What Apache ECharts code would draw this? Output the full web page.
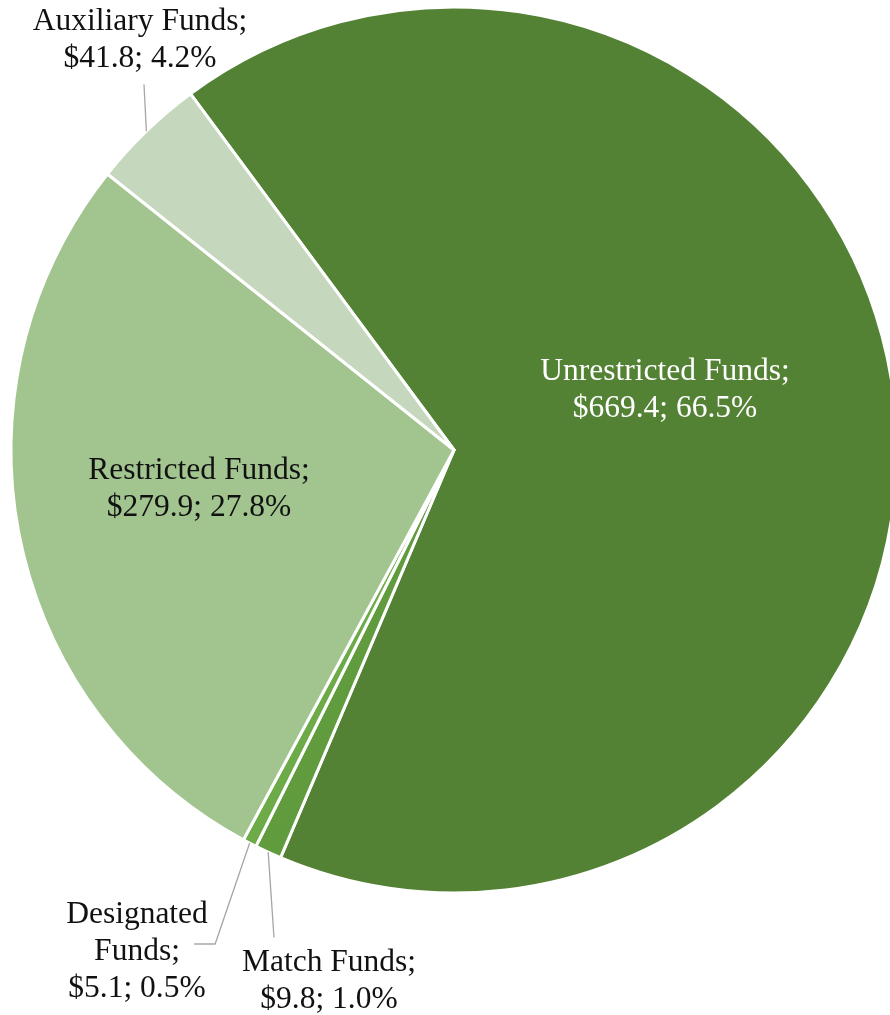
<!DOCTYPE html>
<html>
<head>
<meta charset="utf-8">
<script src="https://cdn.jsdelivr.net/npm/echarts@6/dist/echarts.min.js"></script>
<style>html,body{margin:0;padding:0;background:#fff}#c{width:890px;height:1015px}</style>
</head>
<body>
<div id="c"></div>
<script>
const categories = ['Unrestricted Funds', 'Match Funds', 'Designated Funds', 'Restricted Funds', 'Auxiliary Funds'];
const values = [669.4, 9.8, 5.1, 279.9, 41.8];
const colors = ['#548235', '#609b3e', '#6cab47', '#a2c48f', '#c5d8bd'];
const labelNames = ['Unrestricted Funds;', 'Match Funds;', 'Designated\nFunds;', 'Restricted Funds;', 'Auxiliary Funds;'];
const labelColors = ['#ffffff', '#111111', '#111111', '#111111', '#111111'];
// layout only: label text centres, leader-line end anchors and their last-segment lengths
const labelPos = [[665, 390], [329, 981], [137, 952], [199, 489], [140, 40]];
const hasLeader = [false, true, true, false, true];
const leaderEnd = [null, [274, 938], [164, 944], null, [144, 84]];
const leaderLen = [0, 0, 21, 0, 0];
const leaderPad = [0, 0, 30, 0, 0];

const commonPie = {
  type: 'pie',
  center: [454, 450],
  radius: [0, 443],
  startAngle: 126.5,
  clockwise: true,
  percentPrecision: 1,
  avoidLabelOverlap: false
};

const chart = echarts.init(document.getElementById('c'));
chart.setOption({
  animation: false,
  series: [
    Object.assign({}, commonPie, {
      itemStyle: { borderColor: '#ffffff', borderWidth: 3 },
      label: {
        show: true,
        position: 'outside',
        fontFamily: 'Liberation Serif',
        fontSize: 31.5,
        lineHeight: 37,
        align: 'center'
      },
      labelLine: { show: false },
      labelLayout: function (p) {
        const pos = labelPos[p.dataIndex];
        return { x: pos[0], y: pos[1], align: 'center', verticalAlign: 'middle' };
      },
      data: categories.map((c, i) => ({
        name: c,
        value: values[i],
        itemStyle: { color: colors[i] },
        label: {
          color: labelColors[i],
          formatter: function (p) { return labelNames[i] + '\n$' + p.value.toFixed(1) + '; ' + p.percent.toFixed(1) + '%'; }
        }
      }))
    }),
    Object.assign({}, commonPie, {
      silent: true,
      z: 3,
      itemStyle: { color: 'rgba(0,0,0,0)', borderWidth: 0 },
      label: {
        show: true, position: 'outside', fontSize: 1, lineHeight: 1, formatter: ' ',
        color: 'rgba(0,0,0,0)', backgroundColor: 'rgba(255,255,255,0)'
      },
      labelLine: { show: true, lineStyle: { color: '#a6a6a6', width: 1.3 }, length: 5 },
      labelLayout: function (p) {
        const e = leaderEnd[p.dataIndex];
        if (!e) return {};
        return { x: e[0], y: e[1], align: 'center', verticalAlign: 'middle' };
      },
      data: categories.map((c, i) => ({
        name: c,
        value: values[i],
        label: { show: hasLeader[i], padding: [0, leaderPad[i]] },
        labelLine: { show: hasLeader[i], length2: leaderLen[i] }
      }))
    })
  ]
});
</script>
</body>
</html>
